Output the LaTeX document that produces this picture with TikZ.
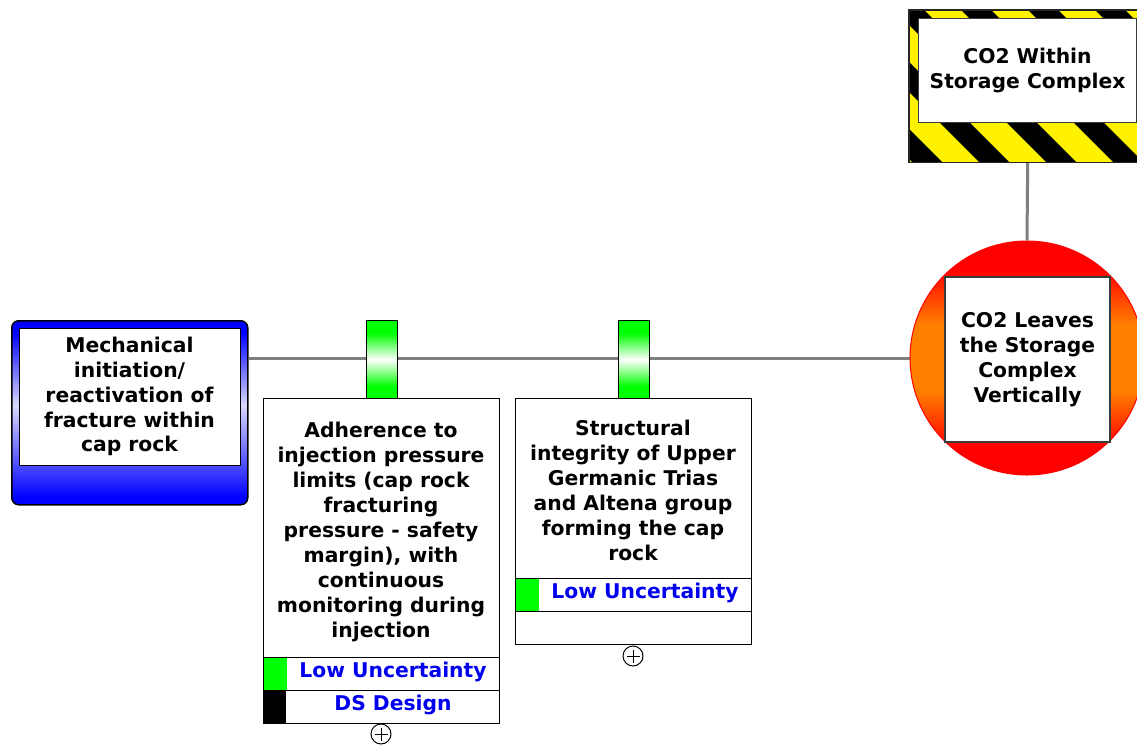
\documentclass[tikz,border=0pt]{standalone}
\usepackage{fontspec}
\setmainfont{DejaVu Sans}
\definecolor{linegray}{RGB}{128,128,128}
\definecolor{bluetxt}{RGB}{0,0,238}
\definecolor{dgray}{RGB}{60,60,60}
\pgfdeclareverticalshading{ballshade}{100bp}{color(0bp)=(red); color(31bp)=(red); color(43bp)=(orange); color(57bp)=(orange); color(69bp)=(red); color(100bp)=(red)}
\pgfdeclareverticalshading{causeshade}{100bp}{color(0bp)=(blue); color(27bp)=(blue); color(52bp)=(white!85!blue); color(72bp)=(blue); color(100bp)=(blue)}
\pgfdeclareverticalshading{barshade}{100bp}{color(0bp)=(green); color(33bp)=(green); color(50bp)=(white); color(67bp)=(green); color(100bp)=(green)}
\pgfdeclarelayer{bg}
\pgfsetlayers{bg,main}
\begin{document}
\begin{tikzpicture}[x=1pt,y=-1pt,
  txt/.style={font=\bfseries\fontsize{20.3}{24.9}\selectfont, align=center, inner sep=0pt},
  conn/.style={draw=linegray, line width=3pt},
  causebox/.style={draw=black, line width=1.5pt, rounded corners=7pt, shading=causeshade, inner sep=0pt, anchor=north west},
  whitebox/.style={draw=black, line width=1.2pt, fill=white, inner sep=0pt, anchor=north west},
  barsym/.style={draw=black, line width=1.2pt, shading=barshade, inner sep=0pt, anchor=north west, minimum width=31pt, minimum height=78pt},
  rowbox/.style={draw=black, line width=1.2pt, fill=white, inner sep=0pt, anchor=north west, minimum width=236pt, minimum height=33pt},
  sq/.style={inner sep=0pt, anchor=north west, minimum width=23pt, minimum height=33pt},
  rowtxt/.style={txt, text=bluetxt},
  plusc/.style={circle, draw=black, line width=1pt, fill=white, minimum size=20pt, inner sep=0pt}
]
\useasboundingbox (0,0) rectangle (1137,744);

% Hazard
\node[fill=yellow, minimum width=237pt, minimum height=152pt, inner sep=0pt, anchor=north west] (hz) at (909,10) {};
\begin{scope}
  \clip (hz.north west) rectangle (hz.south east);
  \foreach \k in {-3,...,4} {
    \fill[black] (884+67*\k,0) -- ++(30,0) -- ++(170,170) -- ++(-30,0) -- cycle;
  }
\end{scope}
\draw[draw=black!85, line width=1.6pt] (hz.north west) rectangle (hz.south east);
\node[txt, fill=white, draw=dgray, line width=1pt, minimum width=218pt, minimum height=104pt, anchor=north west] (hzt) at (918,18) {CO2 Within\\Storage Complex};

% Top event
\node[circle, minimum size=234pt, shading=ballshade, draw=red, line width=1pt] (te) at (1027,358) {};
\node[txt, draw=dgray, line width=1.5pt, fill=white, minimum size=165pt] (tet) at (1027.5,359.5) {CO2 Leaves\\the Storage\\Complex\\Vertically};

% Cause
\node[causebox, minimum width=236pt, minimum height=184pt] (lb) at (11,320) {};
\node[whitebox, minimum width=221pt, minimum height=137pt] (lbb) at (19,328) {};
\node[txt] (lbt) at (129.5,396.5) {Mechanical\\initiation/\\reactivation of\\fracture within\\cap rock};

% Barrier 1
\node[barsym] (g1) at (366,320) {};
\node[whitebox, minimum width=236pt, minimum height=259pt] (b1) at (263,398) {};
\node[txt] (b1t) at (381,532) {Adherence to\\injection pressure\\limits (cap rock\\fracturing\\pressure - safety\\margin), with\\continuous\\monitoring during\\injection};
\node[rowbox] (b1r1) at (263,657) {};
\node[sq, fill=green] (b1s1) at (263.6,657.6) {};
\node[rowtxt] (b1t1) at (393,672) {Low Uncertainty};
\node[rowbox] (b1r2) at (263,690) {};
\node[sq, fill=black] (b1s2) at (263,690) {};
\node[rowtxt] (b1t2) at (393,705) {DS Design};
\node[plusc] (p1) at (381,734) {};
\draw[line width=1pt] ([xshift=4pt]p1.west) -- ([xshift=-4pt]p1.east);
\draw[line width=1pt] ([yshift=-4pt]p1.north) -- ([yshift=4pt]p1.south);

% Barrier 2
\node[barsym] (g2) at (618,320) {};
\node[whitebox, minimum width=236pt, minimum height=180pt] (b2) at (515,398) {};
\node[txt] (b2t) at (633,490.5) {Structural\\integrity of Upper\\Germanic Trias\\and Altena group\\forming the cap\\rock};
\node[rowbox] (b2r1) at (515,578) {};
\node[sq, fill=green] (b2s1) at (515.6,578.6) {};
\node[rowtxt] (b2t1) at (645,593) {Low Uncertainty};
\node[rowbox] (b2r2) at (515,611) {};
\node[plusc] (p2) at (633,656) {};
\draw[line width=1pt] ([xshift=4pt]p2.west) -- ([xshift=-4pt]p2.east);
\draw[line width=1pt] ([yshift=-4pt]p2.north) -- ([yshift=4pt]p2.south);

% Connectors
\begin{pgfonlayer}{bg}
  \draw[conn] (lb.east |- te.west) -- (te.west);
  \draw[conn] (hz.south) -- (te.north);
\end{pgfonlayer}
\end{tikzpicture}
\end{document}
